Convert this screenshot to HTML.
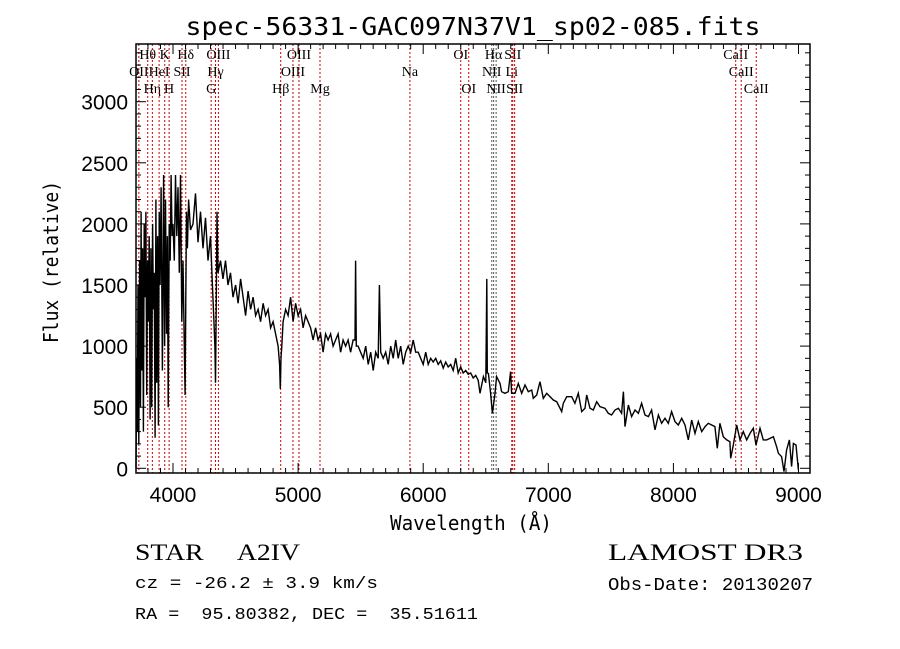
<!DOCTYPE html>
<html><head><meta charset="utf-8"><style>
body{margin:0;background:#fff;}
svg{display:block;}
text{fill:#000;}
</style></head><body>
<svg id="chart" width="900" height="649" xmlns="http://www.w3.org/2000/svg">
<rect width="900" height="649" fill="#fff"/>
<text x="473" y="35" text-anchor="middle" font-family="DejaVu Sans Mono, Liberation Mono, monospace" font-size="25" textLength="575" lengthAdjust="spacingAndGlyphs">spec-56331-GAC097N37V1_sp02-085.fits</text>
<g id="lines"></g>
<g id="spec"></g>
<g id="axes"></g>
<text x="471" y="530" text-anchor="middle" font-family="DejaVu Sans Mono, Liberation Mono, monospace" font-size="20" textLength="162" lengthAdjust="spacingAndGlyphs">Wavelength (Å)</text>
<text transform="translate(58,262) rotate(-90)" text-anchor="middle" font-family="DejaVu Sans Mono, Liberation Mono, monospace" font-size="20" textLength="162" lengthAdjust="spacingAndGlyphs">Flux (relative)</text>
<text x="135" y="560" font-family="Liberation Serif, serif" font-size="23" textLength="165" lengthAdjust="spacingAndGlyphs" xml:space="preserve">STAR     A2IV</text>
<text x="135" y="588" font-family="Liberation Mono, monospace" font-size="17" textLength="243" lengthAdjust="spacingAndGlyphs">cz = -26.2 ± 3.9 km/s</text>
<text x="135" y="619" font-family="Liberation Mono, monospace" font-size="17" textLength="343" lengthAdjust="spacingAndGlyphs" xml:space="preserve">RA =  95.80382, DEC =  35.51611</text>
<text x="608" y="560" font-family="Liberation Serif, serif" font-size="23" textLength="195" lengthAdjust="spacingAndGlyphs">LAMOST DR3</text>
<text x="608" y="590" font-family="Liberation Mono, monospace" font-size="18" textLength="205" lengthAdjust="spacingAndGlyphs">Obs-Date: 20130207</text>
</svg>
<script>
const wave = [3704,3710,3715,3720,3727,3733,3740,3745,3750,3757,3763,3770,3777,3783,3790,3797,3803,3810,3817,3823,3830,3837,3843,3850,3857,3863,3870,3877,3883,3890,3897,3905,3915,3925,3933,3940,3948,3955,3962,3970,3978,3985,3993,4000,4010,4020,4030,4040,4050,4060,4070,4080,4090,4097,4102,4108,4115,4125,4140,4160,4180,4200,4220,4240,4260,4280,4300,4315,4325,4335,4340,4345,4352,4360,4380,4400,4420,4440,4460,4480,4500,4520,4540,4560,4580,4600,4620,4640,4660,4680,4700,4720,4740,4760,4780,4800,4820,4840,4852,4858,4863,4870,4880,4900,4920,4940,4960,4980,5000,5020,5040,5060,5080,5100,5120,5140,5160,5180,5200,5220,5240,5260,5280,5300,5320,5340,5360,5380,5400,5420,5440,5455,5460,5465,5480,5500,5520,5540,5560,5580,5600,5620,5640,5650,5660,5680,5700,5720,5740,5760,5780,5800,5820,5840,5860,5880,5900,5920,5940,5960,5980,6000,6020,6040,6060,6080,6100,6120,6140,6160,6180,6200,6220,6240,6260,6280,6300,6320,6340,6360,6380,6400,6420,6440,6454,6481,6500,6508,6512,6521,6539,6553,6574,6587,6614,6627,6654,6680,6699,6707,6734,6760,6787,6814,6840,6867,6880,6907,6934,6960,6987,7014,7040,7067,7107,7120,7147,7187,7213,7240,7267,7293,7307,7333,7360,7387,7413,7453,7480,7506,7533,7560,7586,7600,7613,7640,7666,7693,7720,7746,7773,7800,7826,7853,7880,7906,7933,7959,7986,8013,8039,8066,8093,8119,8146,8173,8199,8226,8253,8279,8306,8332,8351,8372,8399,8426,8452,8458,8479,8506,8532,8559,8586,8612,8639,8660,8692,8719,8745,8772,8799,8825,8839,8865,8884,8905,8927,8945,8959,8980,8999];
const flux = [0,900,300,1500,200,1700,500,2100,800,1800,300,2000,1400,2100,600,1700,1200,1900,400,1800,500,2000,1300,1600,250,2200,700,1900,350,2100,1500,2300,800,2400,1000,2200,1100,1900,500,2000,1700,2400,1900,2000,1700,2400,1900,2300,1600,2400,1200,1700,1000,600,1400,2100,1800,2200,1950,2000,2250,1850,2100,1800,2050,1700,1900,1500,1250,1000,700,1300,2100,1600,1700,1550,1700,1500,1600,1400,1500,1350,1550,1400,1250,1450,1300,1400,1250,1300,1200,1350,1250,1300,1150,1200,1100,1000,850,650,900,1000,1200,1300,1250,1400,1200,1350,1250,1300,1150,1250,1200,1150,1050,1150,1050,1100,950,1100,1050,1100,1000,1050,1100,950,1050,1000,1050,950,1050,1050,1700,1000,1000,950,900,1000,850,950,800,950,900,1500,950,900,950,850,1000,900,1050,900,1000,850,950,1000,950,1050,950,950,900,850,950,850,900,870,900,850,880,820,870,830,850,800,900,780,830,780,800,770,780,740,760,720,614,750,700,1550,780,777,614,450,614,750,695,627,614,627,791,614,614,695,614,682,627,641,573,600,709,573,614,586,559,545,464,532,586,586,532,614,464,491,600,491,477,545,504,491,450,436,477,491,450,627,341,518,423,477,450,532,436,423,477,314,436,368,409,368,464,382,354,409,354,232,395,286,382,300,341,368,354,341,164,368,259,232,218,82,191,354,232,300,232,286,327,191,327,232,232,245,259,177,123,95,-27,150,232,14,204,191,-14];
const xTicks = [4000,5000,6000,7000,8000,9000];
const yTicks = [0,500,1000,1500,2000,2500,3000];
const lineWave = [3727,3798,3835,3889,3934,3969,4072,4102,4305,4340,4363,4861,4959,5007,5175,5894,6300,6364,6548,6563,6583,6708,6716,6731,8498,8542,8662];
const lineLabel = ["OII","Hθ","Hη","HeI","K","H","SII","Hδ","G","Hγ","OIII","Hβ","OIII","OIII","Mg","Na","OI","OI","NII","Hα","NII","Li","SII","SII","CaII","CaII","CaII"];
const labelRow = [2,1,3,2,1,3,2,1,3,2,1,3,2,1,3,2,1,3,2,1,3,2,1,3,1,2,3];

const L=136,R=810,T=44,B=473;
const xs = w => 173 + (w-4000)*0.1251;
const ys = f => 468.3 - f*0.1222;
const NS='http://www.w3.org/2000/svg';
function mk(tag, attrs, parent){const e=document.createElementNS(NS,tag);for(const k in attrs)e.setAttribute(k,attrs[k]);parent.appendChild(e);return e;}

const gl=document.getElementById('lines');
lineWave.forEach((w,i)=>{
  const x=xs(w);
  const ln=mk('line',{x1:x,x2:x,y1:T,y2:B,stroke:(w>6540&&w<6590)?'#555':'#c00','stroke-width':1,'stroke-dasharray':'2,2'},gl);
  
  
  const t=mk('text',{x:x,y:T+17*labelRow[i]-2,'text-anchor':'middle','font-family':'Liberation Serif, serif','font-size':14},gl);
  t.textContent=lineLabel[i];
  
  
});

const gs=document.getElementById('spec');
let d='';
wave.forEach((w,i)=>{d+=(i?'L':'M')+xs(w).toFixed(1)+','+Math.min(B,ys(flux[i])).toFixed(1);});
const p=mk('path',{d:d,fill:'none',stroke:'#000','stroke-width':1.4},gs);



const ga=document.getElementById('axes');
const fr=mk('rect',{x:L,y:T,width:R-L,height:B-T,fill:'none',stroke:'#000','stroke-width':1.5},ga);


for(let w=3800;w<=9000;w+=100){
  const x=xs(w);const big=w%1000===0;const len=big?10:5;
  mk('line',{x1:x,x2:x,y1:B,y2:B-len,stroke:'#000'},ga);
  mk('line',{x1:x,x2:x,y1:T,y2:T+len,stroke:'#000'},ga);
}
for(let f=0;f<=3400;f+=100){
  const y=ys(f);const big=f%500===0;const len=big?10:5;
  mk('line',{x1:L,x2:L+len,y1:y,y2:y,stroke:'#000'},ga);
  mk('line',{x1:R,x2:R-len,y1:y,y2:y,stroke:'#000'},ga);
}
xTicks.forEach(w=>{
  const t=mk('text',{x:xs(w),y:502,'text-anchor':'middle','font-family':'Liberation Sans, sans-serif','font-size':21},ga);
  t.textContent=w;
  
  
});
yTicks.forEach(f=>{
  const t=mk('text',{x:128,y:ys(f)+8,'text-anchor':'end','font-family':'Liberation Sans, sans-serif','font-size':21},ga);
  t.textContent=f;
  
  
});
</script>
</body></html>
